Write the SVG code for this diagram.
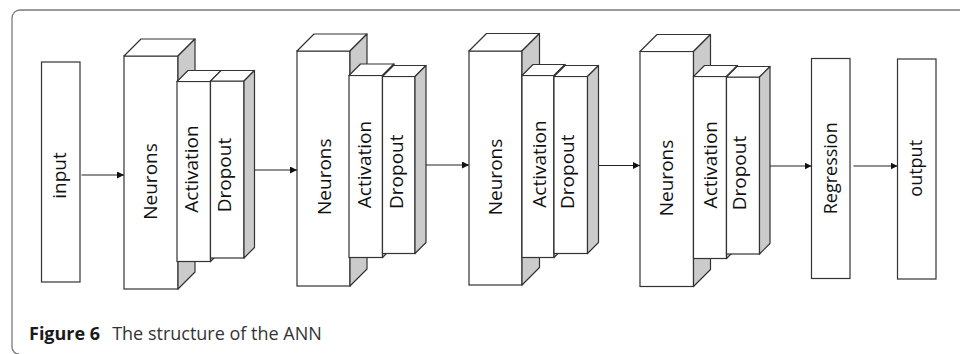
<svg xmlns="http://www.w3.org/2000/svg" width="960" height="354" viewBox="0 0 960 354">
<style>
.frame{fill:none;stroke:#7a7a7a;stroke-width:1.3}
.box{fill:#fff;stroke:#333;stroke-width:1.2}
.top{fill:#fff;stroke:#333;stroke-width:1.2;stroke-linejoin:round}
.side{fill:#cbcbcb;stroke:#333;stroke-width:1.2;stroke-linejoin:round}
.lbl{font-family:"Open Sans","Noto Sans","DejaVu Sans",sans-serif;font-size:19px;fill:#111;text-anchor:middle}
.lbl2{font-family:"Open Sans","Noto Sans","DejaVu Sans",sans-serif;font-size:18px;fill:#111;text-anchor:middle}
.conn{fill:none;stroke:#222;stroke-width:1}
.cap{font-family:"Open Sans","Noto Sans","DejaVu Sans",sans-serif;font-size:18px}
</style>
<defs>
<marker id="ah" markerUnits="userSpaceOnUse" markerWidth="8" markerHeight="8" refX="7" refY="3.5" orient="auto">
<path d="M0,0 L7,3.5 L0,7 z" fill="#111"/>
</marker>
</defs>
<rect width="960" height="354" fill="#fff"/>
<path class="frame" d="M960,10 L20,10 A8,8 0 0 0 12,18 L12,347 A7,7 0 0 0 19,354"/>

<g id="node-input">
<rect class="box" x="41.5" y="62" width="38.5" height="220"/>
<text class="lbl" transform="translate(65.5,175.5) rotate(-90)">input</text>
</g>

<g id="node-neurons-1">
<rect class="box" x="124" y="56" width="54" height="233"/>
<polygon class="top" points="124,56 141,39 195,39 178,56"/>
<polygon class="side" points="178,56 195,39 195,272 178,289"/>
<text class="lbl" transform="translate(157,181.5) rotate(-90)">Neurons</text>
</g>
<g id="node-activation-1">
<rect class="box" x="177" y="81.5" width="33.5" height="180"/>
<polygon class="top" points="177,81.5 188,70.5 221.5,70.5 210.5,81.5"/>
<polygon class="side" points="210.5,81.5 221.5,70.5 221.5,250.5 210.5,261.5"/>
<text class="lbl" transform="translate(198,169) rotate(-90)">Activation</text>
</g>
<g id="node-dropout-1">
<rect class="box" x="210.5" y="81" width="33.5" height="177"/>
<polygon class="top" points="210.5,81 221,70.5 254.5,70.5 244,81"/>
<polygon class="side" points="244,81 254.5,70.5 254.5,247.5 244,258"/>
<text class="lbl" transform="translate(231,175) rotate(-90)">Dropout</text>
</g>

<g id="node-neurons-2">
<rect class="box" x="297" y="51" width="53" height="235"/>
<polygon class="top" points="297,51 314,34 367,34 350,51"/>
<polygon class="side" points="350,51 367,34 367,269 350,286"/>
<text class="lbl" transform="translate(331,176.7) rotate(-90)">Neurons</text>
</g>
<g id="node-activation-2">
<rect class="box" x="349" y="75.5" width="33.5" height="182"/>
<polygon class="top" points="349,75.5 360.5,64 394,64 382.5,75.5"/>
<polygon class="side" points="382.5,75.5 394,64 394,246 382.5,257.5"/>
<text class="lbl" transform="translate(371,164.5) rotate(-90)">Activation</text>
</g>
<g id="node-dropout-2">
<rect class="box" x="382.5" y="76.5" width="32.5" height="177"/>
<polygon class="top" points="382.5,76.5 393.5,65.5 426,65.5 415,76.5"/>
<polygon class="side" points="415,76.5 426,65.5 426,242.5 415,253.5"/>
<text class="lbl" transform="translate(402.5,171.7) rotate(-90)">Dropout</text>
</g>

<g id="node-neurons-3">
<rect class="box" x="469" y="51" width="53" height="234"/>
<polygon class="top" points="469,51 486.5,33.5 539.5,33.5 522,51"/>
<polygon class="side" points="522,51 539.5,33.5 539.5,267.5 522,285"/>
<text class="lbl" transform="translate(502,177) rotate(-90)">Neurons</text>
</g>
<g id="node-activation-3">
<rect class="box" x="522" y="75.5" width="32" height="182"/>
<polygon class="top" points="522,75.5 533,64.5 565,64.5 554,75.5"/>
<polygon class="side" points="554,75.5 565,64.5 565,246.5 554,257.5"/>
<text class="lbl" transform="translate(545.5,164) rotate(-90)">Activation</text>
</g>
<g id="node-dropout-3">
<rect class="box" x="554" y="76.5" width="33.5" height="177"/>
<polygon class="top" points="554,76.5 565,65.5 598.5,65.5 587.5,76.5"/>
<polygon class="side" points="587.5,76.5 598.5,65.5 598.5,242.5 587.5,253.5"/>
<text class="lbl" transform="translate(574,171.7) rotate(-90)">Dropout</text>
</g>

<g id="node-neurons-4">
<rect class="box" x="640" y="51.5" width="53.5" height="235"/>
<polygon class="top" points="640,51.5 657,34.5 710.5,34.5 693.5,51.5"/>
<polygon class="side" points="693.5,51.5 710.5,34.5 710.5,269.5 693.5,286.5"/>
<text class="lbl" transform="translate(673,178) rotate(-90)">Neurons</text>
</g>
<g id="node-activation-4">
<rect class="box" x="693.5" y="76.5" width="33" height="182"/>
<polygon class="top" points="693.5,76.5 704.5,65.5 737.5,65.5 726.5,76.5"/>
<polygon class="side" points="726.5,76.5 737.5,65.5 737.5,247.5 726.5,258.5"/>
<text class="lbl" transform="translate(717,164.7) rotate(-90)">Activation</text>
</g>
<g id="node-dropout-4">
<rect class="box" x="726.5" y="77" width="33" height="177"/>
<polygon class="top" points="726.5,77 737,66.5 770,66.5 759.5,77"/>
<polygon class="side" points="759.5,77 770,66.5 770,243.5 759.5,254"/>
<text class="lbl" transform="translate(745.5,173) rotate(-90)">Dropout</text>
</g>

<g id="node-regression">
<rect class="box" x="811.5" y="58.5" width="38.5" height="220"/>
<text class="lbl2" transform="translate(836.5,168.3) rotate(-90)">Regression</text>
</g>
<g id="node-output">
<rect class="box" x="897.5" y="59" width="38.5" height="220"/>
<text class="lbl2" transform="translate(921.5,168.3) rotate(-90)">output</text>
</g>

<g id="connectors">
<line class="conn" x1="81.5" y1="175" x2="124" y2="175" marker-end="url(#ah)"/>
<line class="conn" x1="254.5" y1="170" x2="297" y2="170" marker-end="url(#ah)"/>
<line class="conn" x1="426" y1="165" x2="469" y2="165" marker-end="url(#ah)"/>
<line class="conn" x1="598.5" y1="165.5" x2="640" y2="165.5" marker-end="url(#ah)"/>
<line class="conn" x1="770" y1="166" x2="811.5" y2="166" marker-end="url(#ah)"/>
<line class="conn" x1="853.5" y1="166" x2="897.5" y2="166" marker-end="url(#ah)"/>
</g>

<g id="caption">
<text class="cap" x="29" y="340"><tspan font-weight="bold" fill="#1a1a1a">Figure 6</tspan><tspan fill="#333" dx="12">The structure of the ANN</tspan></text>
</g>
</svg>
